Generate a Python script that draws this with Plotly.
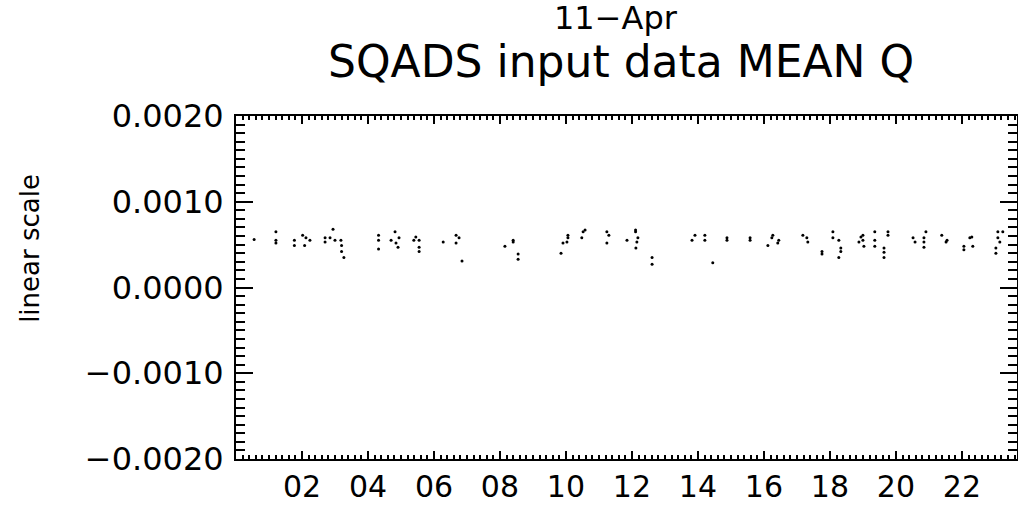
import plotly.graph_objects as go

# Hours (UT) of each observation and the mean Q value
hours = [0.55, 1.21, 1.21, 1.21, 1.77, 1.77, 2.02, 2.12, 2.24, 2.08,
         2.70, 2.70, 2.94, 2.85, 3.00, 3.18, 3.20, 3.20, 3.27,
         4.32, 4.32, 4.32, 4.70, 4.82, 4.94, 4.85, 4.91,
         5.45, 5.39, 5.55, 5.55, 5.55,
         6.28, 6.67, 6.76, 6.67, 6.85,
         8.15, 8.40, 8.40, 8.55, 8.55,
         9.85, 9.91, 10.03, 10.06, 10.06, 10.52, 10.58, 10.48,
         11.24, 11.30, 11.24, 11.85,
         12.11, 12.11, 12.18, 12.15, 12.12, 12.61, 12.61,
         13.82, 13.91, 14.21, 14.21, 14.45, 14.88, 14.88, 15.58, 15.58,
         16.12, 16.27, 16.24, 16.45, 16.42,
         17.18, 17.30, 17.33, 17.76, 17.76,
         18.09, 18.09, 18.27, 18.33, 18.33, 18.27,
         18.94, 19.00, 19.00, 18.88, 19.03,
         19.36, 19.36, 19.36, 19.64, 19.64, 19.64, 19.76, 19.76,
         20.52, 20.58, 20.85, 20.85, 20.85, 20.91,
         21.39, 21.55, 21.52,
         22.06, 22.06, 22.24, 22.30, 22.33,
         23.09, 23.24, 23.09, 23.15, 23.03, 23.03]
mean_q = [0.00056, 0.00065, 0.00055, 0.00052, 0.00055, 0.00049, 0.00061, 0.00058, 0.00055, 0.00049,
          0.00058, 0.00053, 0.00068, 0.00058, 0.00055, 0.00055, 0.00049, 0.00042, 0.00035,
          0.00061, 0.00055, 0.00045, 0.00055, 0.00065, 0.00058, 0.00052, 0.00047,
          0.00059, 0.00055, 0.00055, 0.00047, 0.00042,
          0.00053, 0.00061, 0.00058, 0.00052, 0.00031,
          0.00048, 0.00055, 0.00053, 0.00039, 0.00033,
          0.00040, 0.00052, 0.00053, 0.00061, 0.00058, 0.00065, 0.00067, 0.00058,
          0.00065, 0.00061, 0.00052, 0.00055,
          0.00067, 0.00065, 0.00058, 0.00053, 0.00046, 0.00035, 0.00027,
          0.00055, 0.00061, 0.00061, 0.00055, 0.00029, 0.00058, 0.00055, 0.00058, 0.00055,
          0.00049, 0.00061, 0.00058, 0.00055, 0.00052,
          0.00061, 0.00058, 0.00053, 0.00042, 0.00039,
          0.00065, 0.00058, 0.00055, 0.00046, 0.00042, 0.00035,
          0.00059, 0.00061, 0.00055, 0.00053, 0.00048,
          0.00065, 0.00055, 0.00048, 0.00046, 0.00041, 0.00035, 0.00065, 0.00061,
          0.00058, 0.00053, 0.00058, 0.00053, 0.00047, 0.00065,
          0.00061, 0.00055, 0.00053,
          0.00048, 0.00044, 0.00058, 0.00059, 0.00048,
          0.00065, 0.00065, 0.00058, 0.00053, 0.00046, 0.00040]

x_tick_vals = [2, 4, 6, 8, 10, 12, 14, 16, 18, 20, 22]
x_tick_text = ["02", "04", "06", "08", "10", "12", "14", "16", "18", "20", "22"]
y_tick_vals = [0.002, 0.001, 0.0, -0.001, -0.002]
y_tick_text = ["0.0020", "0.0010", "0.0000", "\u22120.0010", "\u22120.0020"]

date_label = "11\u2212Apr"
title_text = "SQADS input data MEAN Q"
y_label = "linear scale"

FONT = "DejaVu Sans"

fig = go.Figure()
fig.add_trace(go.Scatter(
    x=hours, y=mean_q, mode="markers",
    marker=dict(color="black", size=3, line=dict(width=0)),
    showlegend=False, hoverinfo="skip",
))

fig.update_layout(
    width=1018, height=518,
    margin=dict(l=236, r=1, t=116, b=59, autoexpand=False),
    paper_bgcolor="white", plot_bgcolor="white",
    font=dict(family=FONT, color="black", size=30),
    xaxis=dict(
        range=[0, 23.67], showgrid=False, zeroline=False, automargin=False,
        showline=True, linecolor="black", linewidth=2, mirror="allticks",
        ticks="inside", ticklen=8, tickwidth=2, tickcolor="black",
        tickvals=x_tick_vals, ticktext=x_tick_text,
        tickfont=dict(size=30, family=FONT),
        ticklabelstandoff=0,
        minor=dict(dtick=0.2, tick0=0, ticks="inside", ticklen=4, tickwidth=2, tickcolor="black", showgrid=False),
    ),
    yaxis=dict(
        range=[-0.002, 0.002], showgrid=False, zeroline=False, automargin=False,
        showline=True, linecolor="black", linewidth=2, mirror="allticks",
        ticks="inside", ticklen=17, tickwidth=2, tickcolor="black",
        tickvals=y_tick_vals, ticktext=y_tick_text,
        tickfont=dict(size=32, family=FONT),
        ticklabelstandoff=4,
        minor=dict(dtick=0.0001, tick0=0, ticks="inside", ticklen=9, tickwidth=2, tickcolor="black", showgrid=False),
    ),
    annotations=[
        dict(text=date_label, xref="paper", yref="paper", x=0.487, y=1.286,
             xanchor="center", yanchor="middle", showarrow=False,
             font=dict(size=32, family=FONT)),
        dict(text=title_text, xref="paper", yref="paper", x=0.493, y=1.160,
             xanchor="center", yanchor="middle", showarrow=False,
             font=dict(size=44, family=FONT)),
        dict(text=y_label, xref="paper", yref="paper", x=-0.264, y=0.615,
             xanchor="center", yanchor="middle", showarrow=False, textangle=-90,
             font=dict(size=26, family=FONT)),
    ],
)

fig.write_html("out.html", config={"displayModeBar": False},
               post_script="document.body.style.margin='0';")
